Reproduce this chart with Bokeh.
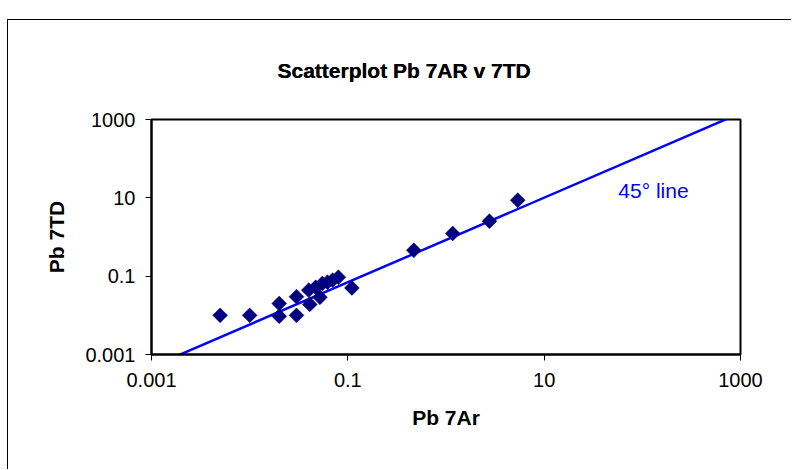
import numpy as np
from bokeh.plotting import figure
from bokeh.models import (FixedTicker, CustomJSTickFormatter, Label, Range1d,
                          Title)
from bokeh.embed import file_html
from bokeh.resources import INLINE

# ---- data ----
pb_7ar = [0.005, 0.01, 0.02, 0.02, 0.03, 0.03, 0.04, 0.041, 0.047, 0.052,
          0.055, 0.062, 0.07, 0.08, 0.11, 0.47, 1.17, 2.77, 5.38]
pb_7td = [0.01, 0.01, 0.02, 0.0095, 0.03, 0.01, 0.044, 0.019, 0.052, 0.029,
          0.065, 0.07, 0.079, 0.094, 0.05, 0.46, 1.23, 2.53, 8.7]
line_x = [0.00107, 1050]
line_y = [0.00052, 1540]
tick_values = [0.001, 0.1, 10, 1000]
title_text = "Scatterplot Pb 7AR v 7TD"
x_label = "Pb 7Ar"
y_label = "Pb 7TD"
line_label = "45\u00b0 line"
line_label_pos = (57, 15)

FONT = "Liberation Sans"

p = figure(width=784, height=450, x_axis_type="log", y_axis_type="log",
           x_range=Range1d(0.001, 1000), y_range=Range1d(0.001, 1000),
           output_backend="svg", toolbar_location=None,
           min_border_left=143, min_border_right=52,
           min_border_top=99, min_border_bottom=116)
p.styles = {"margin-left": "7px", "margin-top": "19px",
            "border-left": "1px solid #000000",
            "border-top": "1px solid #000000"}

main_title = p.title
main_title.text = title_text
main_title.align = "left"
main_title.offset = 126
main_title.standoff = 0
main_title.text_font = FONT
main_title.text_font_size = "21px"
main_title.text_font_style = "bold"
main_title.text_color = "black"

spacer = Title(text=" ", text_font_size="10px", standoff=0)
p.above = [spacer, main_title]

p.xgrid.visible = False
p.ygrid.visible = False
p.outline_line_color = "black"
p.outline_line_width = 2
p.background_fill_color = "white"
p.border_fill_color = "white"

for ax in (p.xaxis[0], p.yaxis[0]):
    ax.ticker = FixedTicker(ticks=tick_values, minor_ticks=[])
    ax.formatter = CustomJSTickFormatter(code="return tick.toString();")
    ax.axis_line_color = "black"
    ax.axis_line_width = 2
    ax.major_tick_out = 6
    ax.major_tick_in = 0
    ax.major_tick_line_color = "black"
    ax.major_tick_line_width = 1
    ax.minor_tick_line_color = None
    ax.major_label_text_font = FONT
    ax.major_label_text_font_size = "20px"
    ax.major_label_text_color = "black"
    ax.axis_label_text_font = FONT
    ax.axis_label_text_font_size = "21px"
    ax.axis_label_text_font_style = "bold"
    ax.axis_label_text_color = "black"

p.xaxis.axis_label = x_label
p.yaxis.axis_label = y_label
p.xaxis.major_label_standoff = 12
p.xaxis.axis_label_standoff = 16
p.yaxis.major_label_standoff = 10
p.yaxis.axis_label_standoff = 14

p.line(line_x, line_y, line_color="#0000FF", line_width=2.5)

p.scatter(pb_7ar, pb_7td, marker="square", angle=np.pi / 4, size=10.5,
          fill_color="#000080", line_color="#000060", line_width=0.5)

p.add_layout(Label(x=line_label_pos[0], y=line_label_pos[1], text=line_label,
                   text_font=FONT, text_font_size="21px", text_color="#0000FF",
                   text_align="left", text_baseline="middle"))

open("out.html", "w").write(file_html(p, INLINE))
